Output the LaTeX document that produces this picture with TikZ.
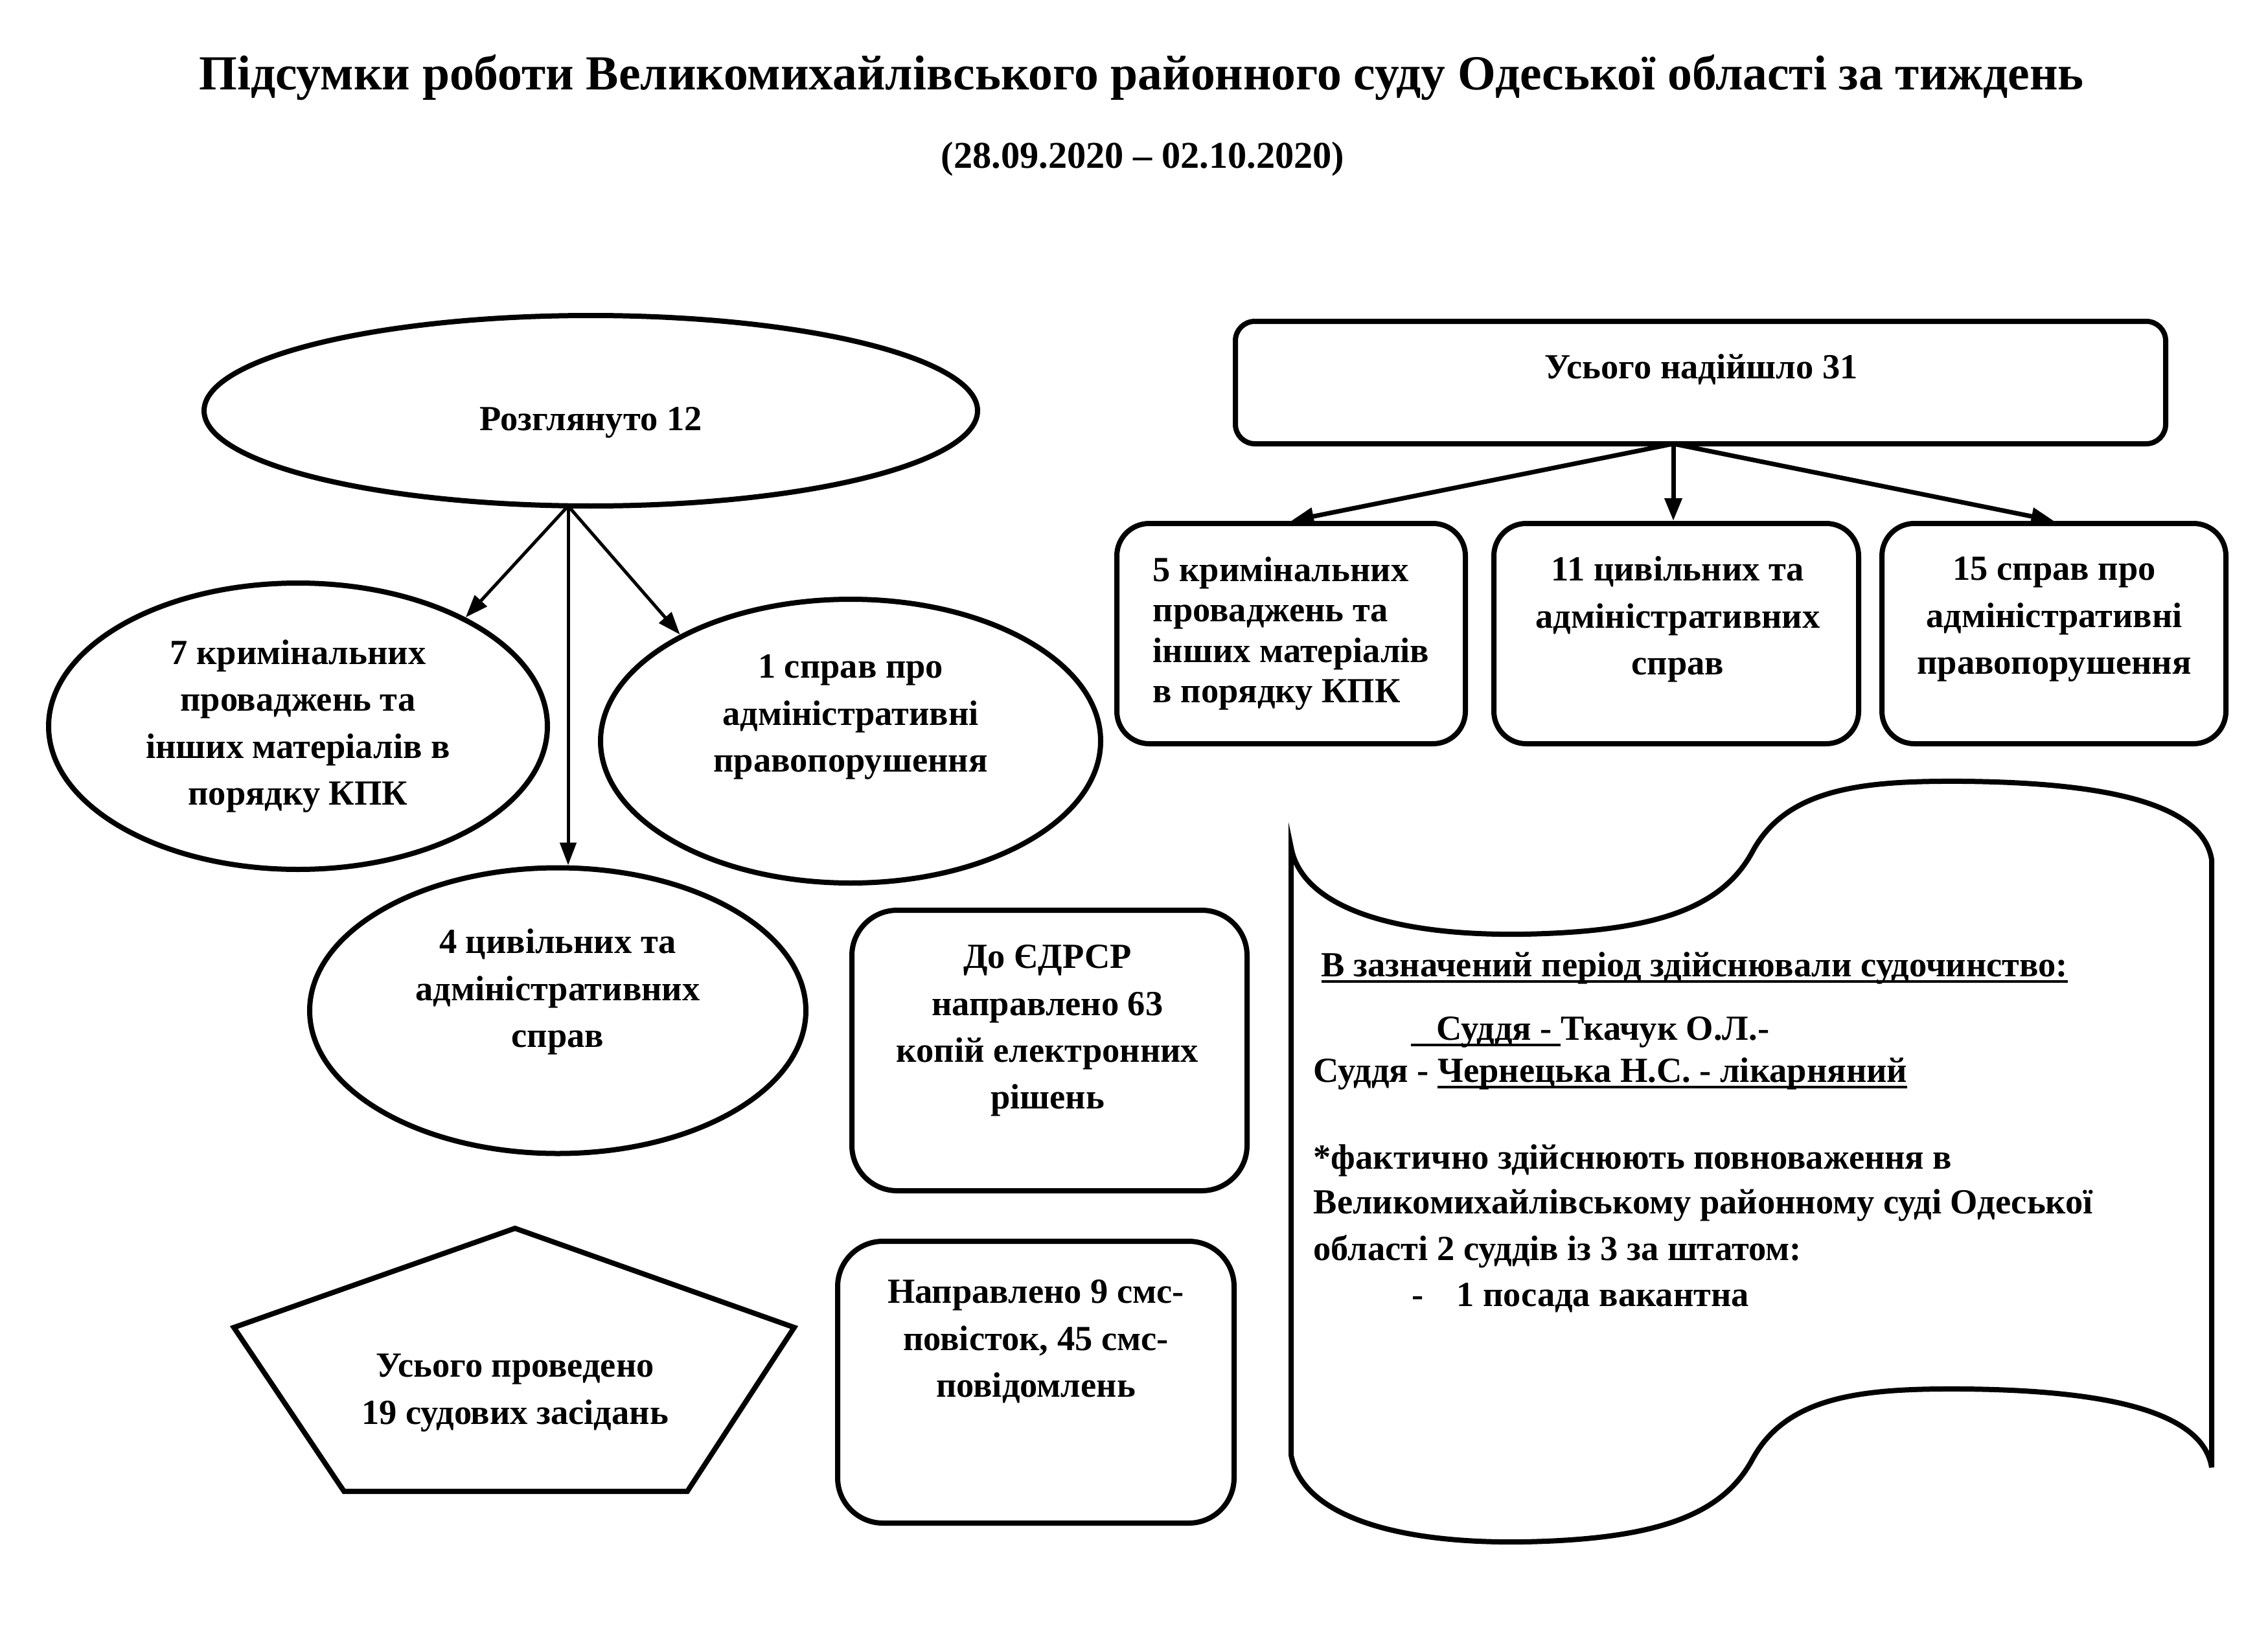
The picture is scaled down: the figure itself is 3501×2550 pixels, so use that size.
\documentclass[tikz,border=0pt]{standalone}
\usepackage{fontspec}
\setmainfont{Liberation Serif}
\usetikzlibrary{shapes.geometric,arrows.meta}
\newsavebox{\ulbox}
\newcommand{\ulx}[1]{\leavevmode\sbox{\ulbox}{#1}\rlap{\rule[-2.8pt]{\wd\ulbox}{1.2pt}}\usebox{\ulbox}}
\begin{document}
\begin{tikzpicture}[x=0.1mm,y=-0.1mm,
  every node/.style={font=\bfseries\fontsize{15.5}{20.6}\selectfont, inner sep=0pt},
  shp/.style={draw, line width=0.8mm},
  ell/.style={shp, ellipse},
  rbox/.style={shp, rectangle},
  txt/.style={align=center},
  arr/.style={line width=0.5mm, -{Triangle[length=3.5mm,width=2.5mm]}},
  arrb/.style={line width=0.7mm, -{Triangle[length=3.5mm,width=2.6mm]}},
  scr/.style={anchor=west, font=\bfseries\fontsize{15.5}{19}\selectfont}
]
\fill[white] (0,0) rectangle (3501,2550);
\useasboundingbox (0,0) rectangle (3501,2550);

% title
\node[font=\bfseries\fontsize{21.5}{26}\selectfont] (title) at (1762,120) {Підсумки роботи Великомихайлівського районного суду Одеської області за тиждень};
\node[font=\bfseries\fontsize{16.6}{20}\selectfont] (period) at (1764,245) {(28.09.2020 – 02.10.2020)};

% left group
\node[ell, minimum width=119.4mm, minimum height=29.4mm] (e0) at (912,634) {};
\node (e0t) at (912,652) {Розглянуто 12};
\node[ell, minimum width=77mm, minimum height=44.2mm, txt] (e1) at (460,1121) {7 кримінальних\\проваджень та\\інших матеріалів в\\порядку КПК};
\node[ell, minimum width=77.2mm, minimum height=43.8mm] (e2) at (1313,1144) {};
\node[txt] (e2t) at (1313,1107) {1 справ про\\адміністративні\\правопорушення};
\node[ell, minimum width=76.6mm, minimum height=44.1mm] (e3) at (861,1560) {};
\node[txt] (e3t) at (861,1531) {4 цивільних та\\адміністративних\\справ};

\coordinate (o1) at (877,781);
\draw[arr] (o1) -- (e1.33);
\draw[arr] (o1) -- (e2.148);
\draw[arr] (o1) -- (o1 |- e3.north);

% right group
\node[rbox, rounded corners=3mm, minimum width=143.6mm, minimum height=18.9mm] (t0) at (2625,590.5) {};
\node (t0t) at (2626,570) {Усього надійшло 31};
\node[rbox, rounded corners=5mm, minimum width=53.8mm, minimum height=34mm, align=left, font=\bfseries\fontsize{15.5}{17.7}\selectfont] (t1) at (1993,978) {5 кримінальних\\проваджень та\\інших матеріалів\\в порядку КПК};
\node[rbox, rounded corners=5mm, minimum width=56.3mm, minimum height=34mm] (t2) at (2587.5,978) {};
\node[txt] (t2t) at (2590,956) {11 цивільних та\\адміністративних\\справ};
\node[rbox, rounded corners=5mm, minimum width=53.1mm, minimum height=34mm] (t3) at (3170.5,978) {};
\node[txt] (t3t) at (3171,956) {15 справ про\\адміністративні\\правопорушення};

\coordinate (o2) at (2583,685);
\draw[arrb] (o2) -- (t1.north);
\draw[arrb] (o2) -- (o2 |- t2.north);
\draw[arrb] (o2) -- (t3.north);

% middle boxes
\node[rbox, rounded corners=7mm, minimum width=61mm, minimum height=43.3mm] (d1) at (1620,1621.5) {};
\node[txt] (d1t) at (1617,1591) {До ЄДРСР\\направлено 63\\копій електронних\\рішень};
\node[rbox, rounded corners=7mm, minimum width=61.2mm, minimum height=43.5mm] (d2) at (1599,2133.5) {};
\node[txt] (d2t) at (1599,2071) {Направлено 9 смс-\\повісток, 45 смс-\\повідомлень};

% pentagon
\draw[shp, line join=miter] (795,1896) -- (1226,2049) -- (1061,2302) -- (531,2302) -- (361,2049) -- cycle;
\node[txt] (pt) at (795,2150) {Усього проведено\\19 судових засідань};

% scroll
\draw[shp] (1993,1308) .. controls (2010,1400) and (2150,1445) .. (2352,1442)
  .. controls (2560,1438) and (2660,1400) .. (2706,1313)
  .. controls (2760,1215) and (2880,1205) .. (3030,1206)
  .. controls (3250,1208) and (3400,1240) .. (3414,1327)
  -- (3414,2265)
  .. controls (3400,2178) and (3250,2146) .. (3030,2144)
  .. controls (2880,2143) and (2760,2153) .. (2706,2251)
  .. controls (2660,2338) and (2560,2376) .. (2352,2380)
  .. controls (2150,2383) and (2010,2338) .. (1993,2246)
  -- cycle;

\node[scr] (s1) at (2039,1494) {\ulx{В зазначений період здійснювали судочинство:}};
\node[scr] (s2) at (2177,1593) {\ulx{\hspace*{4mm}Суддя -\ }Ткачук О.Л.-};
\node[scr] (s3) at (2027,1657) {Суддя - \ulx{Чернецька Н.С. - лікарняний}};
\node[scr] (s4) at (2027,1791) {*фактично здійснюють повноваження в};
\node[scr] (s5) at (2027,1860) {Великомихайлівському районному суді Одеської};
\node[scr] (s6) at (2027,1932) {області 2 суддів із 3 за штатом:};
\node[scr] (s7) at (2179,2003) {\makebox[6.9mm][l]{-}1 посада вакантна};
\end{tikzpicture}
\end{document}
